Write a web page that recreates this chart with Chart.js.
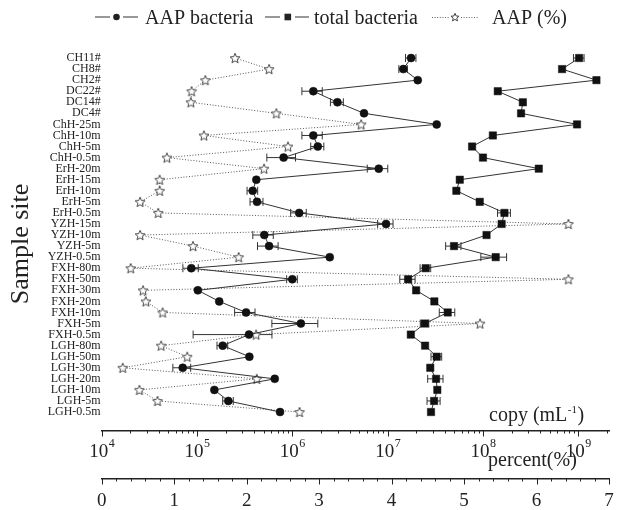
<!DOCTYPE html>
<html>
<head>
<meta charset="utf-8">
<title>AAP bacteria by sample site</title>
<script src="https://cdn.jsdelivr.net/npm/chart.js@4.4.1/dist/chart.umd.min.js"></script>
<style>
    body { margin: 0; background: #fff; }
    .wrap { width: 619px; height: 510px; }
</style>
</head>
<body>
<div class="wrap"><canvas id="siteChart" width="619" height="510"></canvas></div>
<script>
    const sites = ['CH11#', 'CH8#', 'CH2#', 'DC22#', 'DC14#', 'DC4#',
        'ChH-25m', 'ChH-10m', 'ChH-5m', 'ChH-0.5m',
        'ErH-20m', 'ErH-15m', 'ErH-10m', 'ErH-5m', 'ErH-0.5m',
        'YZH-15m', 'YZH-10m', 'YZH-5m', 'YZH-0.5m',
        'FXH-80m', 'FXH-50m', 'FXH-30m', 'FXH-20m', 'FXH-10m', 'FXH-5m', 'FXH-0.5m',
        'LGH-80m', 'LGH-50m', 'LGH-30m', 'LGH-20m', 'LGH-10m', 'LGH-5m', 'LGH-0.5m'];

    // copies per mL
    const aapBacteria = [1.76e7, 1.46e7, 2.07e7, 1.66e6, 2.97e6, 5.65e6,
        3.27e7, 1.66e6, 1.85e6, 8.1e5,
        8.07e6, 4.19e5, 3.84e5, 4.26e5, 1.18e6,
        9.62e6, 5.08e5, 5.7e5, 2.47e6,
        8.71e4, 1.0e6, 1.02e5, 1.71e5, 3.27e5, 1.23e6, 3.51e5,
        1.86e5, 3.54e5, 7.08e4, 6.54e5, 1.52e5, 2.13e5, 7.43e5];
    const aapBacteriaErr = [2.2e6, 1.5e6, 0, 4.0e5, 4.6e5, 0,
        0, 4.0e5, 2.9e5, 2.7e5,
        1.96e6, 0, 4.9e4, 6.6e4, 2.2e5,
        1.77e6, 1.23e5, 1.39e5, 0,
        1.6e4, 1.28e5, 0, 0, 7.9e4, 6.2e5, 2.6e5,
        2.4e4, 0, 1.5e4, 0, 0, 2.7e4, 0];
    const totalBacteria = [1.02e9, 6.76e8, 1.55e9, 1.43e8, 2.62e8, 2.51e8,
        9.7e8, 1.27e8, 7.69e7, 1.0e8,
        3.85e8, 5.71e7, 5.26e7, 9.25e7, 1.68e8,
        1.57e8, 1.09e8, 4.97e7, 1.36e8,
        2.51e7, 1.64e7, 1.99e7, 3.09e7, 4.27e7, 2.45e7, 1.75e7,
        2.47e7, 3.27e7, 2.8e7, 3.22e7, 3.32e7, 3.07e7, 2.85e7];
    const totalBacteriaErr = [1.3e8, 0, 0, 0, 0, 0,
        0, 0, 0, 0,
        0, 0, 0, 0, 2.6e7,
        0, 0, 9.1e6, 4.1e7,
        3.2e6, 3.0e6, 0, 0, 7.9e6, 2.5e6, 0,
        0, 4.2e6, 0, 5.9e6, 0, 4.8e6, 0];
    // percent
    const aapPercent = [1.84, 2.31, 1.43, 1.24, 1.23, 2.41,
        3.58, 1.41, 2.57, 0.90,
        2.24, 0.80, 0.80, 0.53, 0.78,
        6.44, 0.53, 1.26, 1.89,
        0.40, 6.44, 0.57, 0.61, 0.84, 5.22, 2.13,
        0.82, 1.18, 0.29, 2.14, 0.52, 0.77, 2.73];

    const logLabels = [4, 5, 6, 7, 8, 9];          // 10^n
    const percentLabels = [0, 1, 2, 3, 4, 5, 6, 7];

    const serif = "'Liberation Serif', 'Times New Roman', serif";
    const ink = '#222';

    function makeStar(size) {
        const c = document.createElement('canvas');
        c.width = c.height = size;
        const g = c.getContext('2d');
        const cx = size / 2, cy = size / 2 + 0.5, R = size / 2 - 0.8, r = R * 0.45;
        g.beginPath();
        for (let i = 0; i < 10; i++) {
            const a = -Math.PI / 2 + i * Math.PI / 5;
            const rad = i % 2 ? r : R;
            g.lineTo(cx + rad * Math.cos(a), cy + rad * Math.sin(a));
        }
        g.closePath();
        g.fillStyle = '#fff';
        g.fill();
        g.strokeStyle = '#333';
        g.lineWidth = 0.9;
        g.stroke();
        return c;
    }
    const starImg = makeStar(12);

    const toPoints = (arr) => arr.map((v, i) => ({ x: v, y: i }));

    // horizontal error bars, drawn under the markers
    const errorBars = {
        id: 'errorBars',
        beforeDatasetsDraw(chart) {
            const { ctx } = chart;
            const yScale = chart.scales.y;
            ctx.save();
            ctx.strokeStyle = '#333';
            ctx.lineWidth = 1;
            chart.data.datasets.forEach(ds => {
                if (!ds.errors) return;
                const xScale = chart.scales[ds.xAxisID];
                ds.errors.forEach((e, i) => {
                    if (!e) return;
                    const v = ds.data[i].x;
                    const x0 = xScale.getPixelForValue(v - e);
                    const x1 = xScale.getPixelForValue(v + e);
                    const py = yScale.getPixelForValue(i);
                    ctx.beginPath();
                    ctx.moveTo(x0, py); ctx.lineTo(x1, py);
                    ctx.moveTo(x0, py - 4); ctx.lineTo(x0, py + 4);
                    ctx.moveTo(x1, py - 4); ctx.lineTo(x1, py + 4);
                    ctx.stroke();
                });
            });
            ctx.restore();
        }
    };

    // tick marks, tick labels, axis titles and the legend row
    const decor = {
        id: 'decor',
        afterDraw(chart) {
            const { ctx } = chart;
            const { x, x2 } = chart.scales;
            ctx.save();
            ctx.strokeStyle = ink;
            ctx.fillStyle = ink;
            ctx.lineWidth = 1;

            // log axis ticks
            ctx.beginPath();
            for (let k = 4; k <= 9; k++) {
                for (let m = 1; m <= 9; m++) {
                    const v = m * Math.pow(10, k);
                    if (v > x.max) break;
                    const px = Math.round(x.getPixelForValue(v)) + 0.5;
                    ctx.moveTo(px, x.top);
                    ctx.lineTo(px, x.top + (m === 1 ? 6 : 3));
                }
            }
            // percent axis ticks
            for (let i = 0; i <= 35; i++) {
                const px = Math.round(x2.getPixelForValue(i * 0.2)) + 0.5;
                ctx.moveTo(px, x2.top);
                ctx.lineTo(px, x2.top + (i % 5 === 0 ? 6 : 3));
            }
            ctx.stroke();

            // log labels 10^n
            ctx.textBaseline = 'alphabetic';
            logLabels.forEach(n => {
                const px = x.getPixelForValue(Math.pow(10, n));
                ctx.font = '19px ' + serif;
                const w1 = ctx.measureText('10').width;
                ctx.font = '12px ' + serif;
                const w2 = ctx.measureText(String(n)).width;
                const start = px - (w1 + w2) / 2;
                ctx.font = '19px ' + serif;
                ctx.fillText('10', start, x.top + 26.5);
                ctx.font = '12px ' + serif;
                ctx.fillText(String(n), start + w1 + 0.5, x.top + 16.5);
            });

            // percent labels
            ctx.font = '19px ' + serif;
            ctx.textAlign = 'center';
            percentLabels.forEach(p => {
                ctx.fillText(String(p), x2.getPixelForValue(p), x2.top + 27.5);
            });

            // axis titles
            ctx.textAlign = 'left';
            ctx.font = '20px ' + serif;
            let cx = x.right - 120;
            const cy = x.top - 10;
            ctx.fillText('copy (mL', cx, cy);
            cx += ctx.measureText('copy (mL').width;
            ctx.font = '11px ' + serif;
            ctx.fillText('-1', cx + 0.5, cy - 8);
            cx += ctx.measureText('-1').width + 1;
            ctx.font = '20px ' + serif;
            ctx.fillText(')', cx, cy);

            ctx.fillText('percent(%)', x.right - 121, x2.top - 12.5);

            ctx.save();
            ctx.font = '26px ' + serif;
            ctx.textAlign = 'center';
            ctx.translate(28, 244);
            ctx.rotate(-Math.PI / 2);
            ctx.fillText('Sample site', 0, 0);
            ctx.restore();

            // legend
            const ly = 17;
            ctx.font = '20px ' + serif;
            ctx.textAlign = 'left';
            ctx.strokeStyle = '#333';
            ctx.beginPath();
            ctx.moveTo(95, ly); ctx.lineTo(110, ly);
            ctx.moveTo(123, ly); ctx.lineTo(138, ly);
            ctx.moveTo(265, ly); ctx.lineTo(280, ly);
            ctx.moveTo(295, ly); ctx.lineTo(309, ly);
            ctx.stroke();
            ctx.beginPath();
            ctx.arc(116.5, ly, 3.3, 0, Math.PI * 2);
            ctx.fill();
            ctx.fillRect(284.5, ly - 3.3, 6.6, 6.6);
            ctx.save();
            ctx.strokeStyle = '#666';
            ctx.setLineDash([1, 1.6]);
            ctx.beginPath();
            ctx.moveTo(432, ly + 0.5); ctx.lineTo(449, ly + 0.5);
            ctx.moveTo(461, ly + 0.5); ctx.lineTo(478, ly + 0.5);
            ctx.stroke();
            ctx.restore();
            ctx.drawImage(makeStar(10), 450, ly - 5);
            ctx.fillText('AAP bacteria', 145, ly + 7);
            ctx.fillText('total bacteria', 314, ly + 7);
            ctx.fillText('AAP (%)', 492, ly + 7);
            ctx.restore();
        }
    };

    const ctx = document.getElementById('siteChart').getContext('2d');
    new Chart(ctx, {
        type: 'scatter',
        data: {
            datasets: [
                {
                    label: 'AAP bacteria',
                    data: toPoints(aapBacteria),
                    errors: aapBacteriaErr,
                    xAxisID: 'x',
                    yAxisID: 'y',
                    showLine: true,
                    borderColor: '#333',
                    borderWidth: 1,
                    pointStyle: 'circle',
                    pointRadius: 4,
                    pointBackgroundColor: '#111',
                    pointBorderColor: '#111',
                    pointBorderWidth: 0.5,
                    clip: false
                },
                {
                    label: 'total bacteria',
                    data: toPoints(totalBacteria),
                    errors: totalBacteriaErr,
                    xAxisID: 'x',
                    yAxisID: 'y',
                    showLine: true,
                    borderColor: '#333',
                    borderWidth: 1,
                    pointStyle: 'rect',
                    pointRadius: 5.2,
                    pointBackgroundColor: '#111',
                    pointBorderColor: '#111',
                    pointBorderWidth: 0.5,
                    clip: false
                },
                {
                    label: 'AAP (%)',
                    data: toPoints(aapPercent),
                    xAxisID: 'x2',
                    yAxisID: 'y',
                    showLine: true,
                    borderColor: '#555',
                    borderWidth: 1,
                    borderDash: [1, 1.8],
                    pointStyle: starImg,
                    pointRadius: 6,
                    clip: false
                }
            ]
        },
        options: {
            responsive: false,
            animation: false,
            devicePixelRatio: 1,
            layout: { padding: { top: 52.5, right: 10, left: 0, bottom: 0 } },
            plugins: {
                legend: { display: false },
                tooltip: { enabled: false }
            },
            scales: {
                x: {
                    type: 'logarithmic',
                    position: 'bottom',
                    weight: 0,
                    min: 1e4,
                    max: 2.1e9,
                    grid: { display: false, drawTicks: false },
                    border: { display: true, color: ink, width: 1.5 },
                    ticks: { display: false },
                    afterFit: s => { s.height = 48; }
                },
                x2: {
                    type: 'linear',
                    position: 'bottom',
                    weight: 1,
                    min: 0,
                    max: 7,
                    grid: { display: false, drawTicks: false },
                    border: { display: true, color: ink, width: 1.5 },
                    ticks: { display: false },
                    afterFit: s => { s.height = 31.5; }
                },
                y: {
                    type: 'linear',
                    reverse: true,
                    min: -0.5,
                    max: 33.67,
                    grid: { display: false, drawTicks: false },
                    border: { display: false },
                    afterBuildTicks: s => { s.ticks = sites.map((_, i) => ({ value: i })); },
                    ticks: {
                        autoSkip: false,
                        padding: 1,
                        color: ink,
                        font: { family: serif, size: 12 },
                        callback: v => sites[v] !== undefined ? sites[v] : ''
                    },
                    afterFit: s => { s.width = 101.7; }
                }
            }
        },
        plugins: [errorBars, decor]
    });
</script>
</body>
</html>
